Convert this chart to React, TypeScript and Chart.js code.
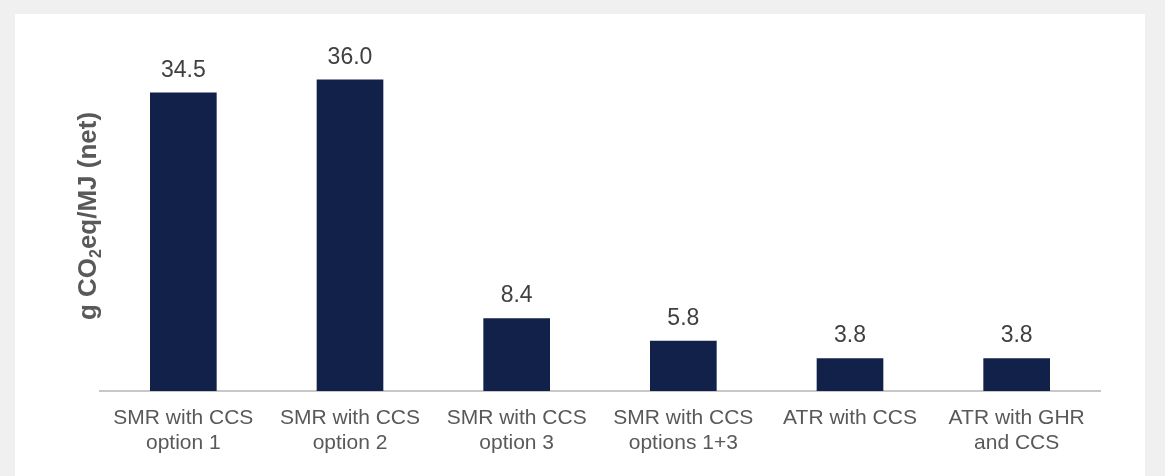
import React, { useEffect, useRef } from "react";
import { Chart, registerables } from "chart.js";

Chart.register(...registerables);

// Production routes (two-line tick labels)
const categories: string[][] = [
  ["SMR with CCS", "option 1"],
  ["SMR with CCS", "option 2"],
  ["SMR with CCS", "option 3"],
  ["SMR with CCS", "options 1+3"],
  ["ATR with CCS"],
  ["ATR with GHR", "and CCS"],
];

// Net emissions, g CO2eq/MJ
const emissions: number[] = [34.5, 36.0, 8.4, 5.8, 3.8, 3.8];

// Y-axis title pieces (the "2" is drawn as a subscript)
const titleBefore = "g CO";
const titleSub = "2";
const titleAfter = "eq/MJ (net)";

const FONT = "'Liberation Sans', Arial, Helvetica, sans-serif";
const BAR_COLOR = "#12214a";

const valueLabels = {
  id: "valueLabels",
  afterDatasetsDraw(chart: any) {
    const { ctx } = chart;
    const meta = chart.getDatasetMeta(0);
    ctx.save();
    ctx.font = `23px ${FONT}`;
    ctx.fillStyle = "#404040";
    ctx.textAlign = "center";
    ctx.textBaseline = "alphabetic";
    meta.data.forEach((bar: any, i: number) => {
      ctx.fillText(emissions[i].toFixed(1), bar.x, bar.y - 16);
    });
    ctx.restore();
  },
};

const yAxisTitle = {
  id: "yAxisTitle",
  afterDraw(chart: any) {
    const { ctx, chartArea } = chart;
    const big = `bold 26px ${FONT}`;
    const small = `bold 16px ${FONT}`;
    ctx.save();
    ctx.font = big;
    const w1 = ctx.measureText(titleBefore).width;
    const w3 = ctx.measureText(titleAfter).width;
    ctx.font = small;
    const w2 = ctx.measureText(titleSub).width;
    const total = w1 + w2 + w3;
    const cy = (chartArea.top + chartArea.bottom) / 2 - 2;
    ctx.translate(81, cy);
    ctx.rotate(-Math.PI / 2);
    ctx.fillStyle = "#595959";
    ctx.textAlign = "left";
    ctx.textBaseline = "alphabetic";
    let x = -total / 2;
    ctx.font = big;
    ctx.fillText(titleBefore, x, 0);
    x += w1;
    ctx.font = small;
    ctx.fillText(titleSub, x, 5);
    x += w2;
    ctx.font = big;
    ctx.fillText(titleAfter, x, 0);
    ctx.restore();
  },
};

export default function App() {
  const canvasRef = useRef<HTMLCanvasElement | null>(null);

  useEffect(() => {
    if (!canvasRef.current) return;
    const chart = new Chart(canvasRef.current, {
      type: "bar",
      data: {
        labels: categories,
        datasets: [
          {
            data: emissions,
            backgroundColor: BAR_COLOR,
            borderWidth: 0,
            barPercentage: 0.4,
            categoryPercentage: 1.0,
          },
        ],
      },
      options: {
        responsive: false,
        animation: false,
        devicePixelRatio: 1,
        layout: { padding: { left: 85, right: 45, top: 31, bottom: 0 } },
        plugins: {
          legend: { display: false },
          tooltip: { enabled: false },
          title: { display: false },
        },
        scales: {
          x: {
            grid: { display: false, drawTicks: false },
            border: { display: true, color: "#c8c8c8", width: 2 },
            ticks: {
              autoSkip: false,
              maxRotation: 0,
              minRotation: 0,
              padding: 15,
              color: "#595959",
              font: { family: FONT, size: 21, lineHeight: 25 / 21 },
            },
            afterFit: (scale: any) => {
              scale.height = 85;
            },
          },
          y: {
            display: false,
            min: 0,
            max: 40,
          },
        },
      },
      plugins: [valueLabels, yAxisTitle],
    });
    return () => chart.destroy();
  }, []);

  return (
    <div style={{ position: "fixed", inset: 0, background: "#f0f0f0", overflow: "hidden" }}>
      <div
        style={{
          position: "absolute",
          left: 15,
          top: 14,
          width: 1130,
          height: 462,
          background: "#ffffff",
        }}
      >
        <canvas ref={canvasRef} width={1130} height={462} style={{ display: "block" }} />
      </div>
    </div>
  );
}
